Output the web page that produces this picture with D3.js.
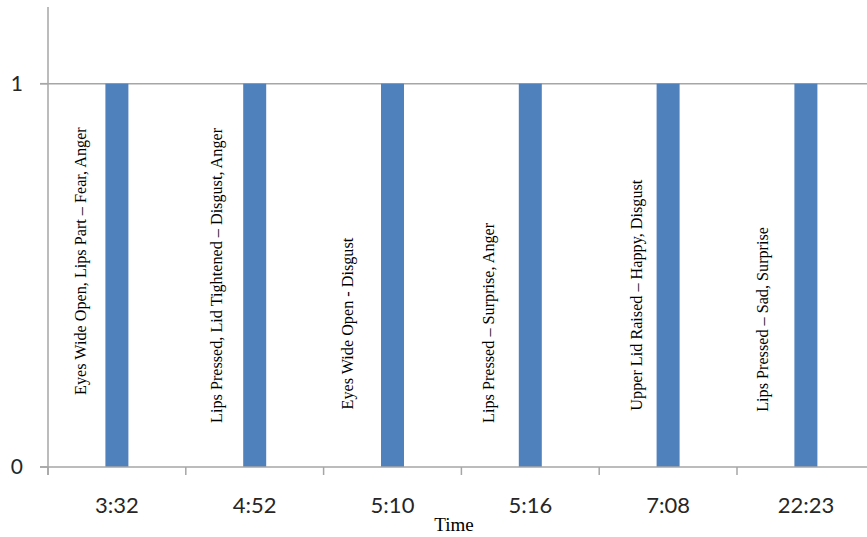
<!DOCTYPE html>
<html>
<head>
<meta charset="utf-8">
<script src="https://cdn.jsdelivr.net/npm/d3@7"></script>
<style>
  html, body { margin: 0; padding: 0; background: #fff; }
  svg { display: block; }
</style>
</head>
<body>
<svg id="chart" width="867" height="537"></svg>
<script>
// Timestamps of observed facial expressions
const times = ["3:32", "4:52", "5:10", "5:16", "7:08", "22:23"];
// Occurrence flag at each timestamp
const values = [1, 1, 1, 1, 1, 1];
// Expression description written beside each bar
const notes = [
  "Eyes Wide Open, Lips Part \u2013 Fear, Anger",
  "Lips Pressed, Lid Tightened \u2013 Disgust, Anger",
  "Eyes Wide Open - Disgust",
  "Lips Pressed \u2013 Surprise, Anger",
  "Upper Lid Raised \u2013 Happy, Disgust",
  "Lips Pressed \u2013 Sad, Surprise"
];
const yTicks = [0, 1];

// Placement of the rotated notes: where each note starts (in value units)
// and how far left of its bar it sits (px)
const noteStart = [0.188, 0.115, 0.150, 0.115, 0.147, 0.144];
const noteShift = [-37, -38, -45, -42, -32, -44];

const svg = d3.select("#chart");
const plotLeft = 48, plotTop = 7, plotBottom = 467, bandW = 137.8;
const plotRight = plotLeft + bandW * times.length;

const x = d3.scaleBand().domain(times).range([plotLeft, plotRight]).paddingInner(0).paddingOuter(0);
const y = d3.scaleLinear().domain([0, 1.2]).range([plotBottom, plotTop]);

const grey = "#a6a6a6";
const sans = "Lato, 'Open Sans', sans-serif";
const serif = "'Liberation Serif', 'Times New Roman', serif";

// horizontal gridline at 1
svg.append("g").selectAll("line").data(yTicks.filter(d => d > 0)).join("line")
  .attr("x1", plotLeft - 8).attr("x2", 867)
  .attr("y1", d => y(d)).attr("y2", d => y(d))
  .attr("stroke", grey).attr("stroke-width", 1.5);

// y axis line
svg.append("line")
  .attr("x1", plotLeft).attr("x2", plotLeft).attr("y1", plotTop).attr("y2", plotBottom + 8)
  .attr("stroke", grey).attr("stroke-width", 1.5);

// y tick marks + labels
const yg = svg.append("g");
yg.selectAll("line").data(yTicks).join("line")
  .attr("x1", plotLeft - 8).attr("x2", plotLeft)
  .attr("y1", d => y(d)).attr("y2", d => y(d))
  .attr("stroke", grey).attr("stroke-width", 1.5);
yg.selectAll("text").data(yTicks).join("text")
  .attr("x", 23).attr("y", d => y(d)).attr("dy", "0.35em")
  .attr("text-anchor", "end")
  .attr("font-family", sans)
  .attr("font-size", 21).attr("fill", "#262626")
  .text(d => d);

// bars
const barW = 23;
svg.append("g").selectAll("rect").data(times).join("rect")
  .attr("x", d => x(d) + x.bandwidth() / 2 - barW / 2)
  .attr("width", barW)
  .attr("y", (d, i) => y(values[i]))
  .attr("height", (d, i) => y(0) - y(values[i]))
  .attr("fill", "#4f81bd");

// x axis baseline and category ticks
svg.append("line")
  .attr("x1", plotLeft - 8).attr("x2", 867).attr("y1", y(0)).attr("y2", y(0))
  .attr("stroke", grey).attr("stroke-width", 1.5);
const bounds = times.map(d => x(d)).concat([plotRight]);
svg.append("g").selectAll("line").data(bounds).join("line")
  .attr("x1", d => d).attr("x2", d => d)
  .attr("y1", y(0)).attr("y2", y(0) + 8)
  .attr("stroke", grey).attr("stroke-width", 1.5);

// category labels
svg.append("g").selectAll("text").data(times).join("text")
  .attr("x", d => x(d) + x.bandwidth() / 2)
  .attr("y", 513)
  .attr("text-anchor", "middle")
  .attr("font-family", sans)
  .attr("font-size", 22).attr("fill", "#262626")
  .text(d => d);

// axis title
svg.append("text")
  .attr("x", 454).attr("y", 531)
  .attr("text-anchor", "middle")
  .attr("font-family", serif)
  .attr("font-size", 19).attr("fill", "#000")
  .text("Time");

// rotated expression notes
svg.append("g").selectAll("text").data(times).join("text")
  .attr("transform", (d, i) => {
    const cx = x(d) + x.bandwidth() / 2 + noteShift[i];
    return `translate(${cx},${y(noteStart[i])}) rotate(-90)`;
  })
  .attr("dy", "0.35em")
  .attr("text-anchor", "start")
  .attr("font-family", serif)
  .attr("font-size", 16.2).attr("fill", "#000")
  .text((d, i) => notes[i]);
</script>
</body>
</html>
